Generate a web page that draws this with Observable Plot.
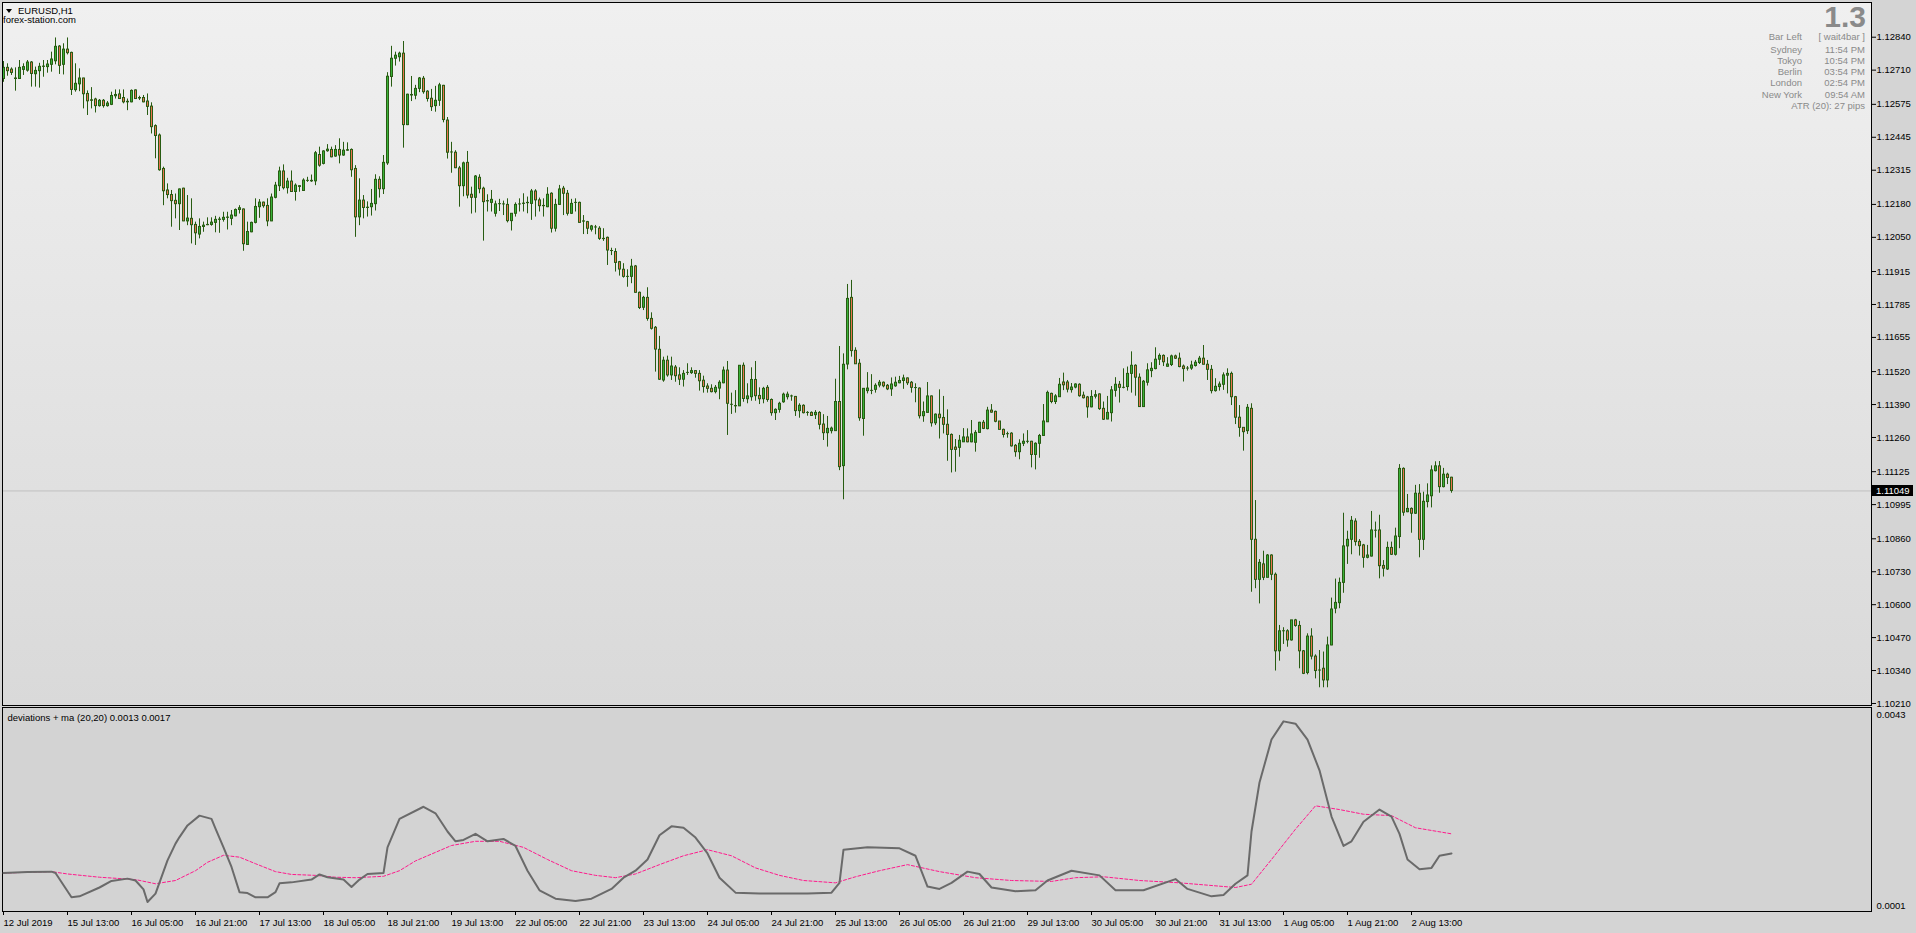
<!DOCTYPE html>
<html><head><meta charset="utf-8">
<script src="https://cdn.jsdelivr.net/npm/d3@7"></script>
<script src="https://cdn.jsdelivr.net/npm/@observablehq/plot@0.6"></script>
<style>
html,body{margin:0;padding:0;background:#d4d4d4;overflow:hidden}
#wrap{position:relative;width:1916px;height:933px;font-family:"Liberation Sans",Arial,sans-serif;background:#d4d4d4}
#bg{position:absolute;left:2px;top:2px;width:1869px;height:703px;background:linear-gradient(#f0f0f0,#d9d9d9)}
.pl{position:absolute;left:0}
.t{position:absolute;white-space:nowrap;font-size:9.5px;line-height:11px}
</style></head><body>
<div id="wrap"><div id="bg"></div><div id="main" class="pl" style="top:0"></div><div id="ind" class="pl" style="top:706px"></div></div>
<script>
// ---------- data ----------
const symbol = "EURUSD,H1";
const site = "forex-station.com";
const opens = [
1.12675,1.12719,1.12712,1.12677,1.12675,1.12711,1.12708,1.12740,1.12694,1.12706,
1.12723,1.12722,1.12731,1.12745,1.12803,1.12731,1.12791,1.12778,1.12631,1.12654,
1.12677,1.12616,1.12591,1.12594,1.12568,1.12589,1.12568,1.12573,1.12607,1.12614,
1.12600,1.12583,1.12583,1.12630,1.12598,1.12600,1.12586,1.12566,1.12489,1.12452,
1.12320,1.12235,1.12217,1.12194,1.12181,1.12242,1.12113,1.12123,1.12099,1.12061,
1.12091,1.12098,1.12099,1.12107,1.12119,1.12119,1.12127,1.12123,1.12133,1.12158,
1.12160,1.12020,1.12070,1.12107,1.12169,1.12187,1.12174,1.12113,1.12206,1.12252,
1.12310,1.12244,1.12270,1.12229,1.12252,1.12233,1.12273,1.12273,1.12271,1.12375,
1.12340,1.12390,1.12395,1.12369,1.12395,1.12373,1.12392,1.12395,1.12320,1.12129,
1.12195,1.12166,1.12169,1.12181,1.12277,1.12240,1.12342,1.12683,1.12755,1.12761,
1.12775,1.12493,1.12612,1.12609,1.12636,1.12676,1.12625,1.12597,1.12568,1.12589,
1.12648,1.12511,1.12385,1.12384,1.12322,1.12252,1.12344,1.12218,1.12206,1.12285,
1.12242,1.12193,1.12186,1.12143,1.12181,1.12180,1.12178,1.12114,1.12143,1.12180,
1.12182,1.12185,1.12182,1.12231,1.12196,1.12173,1.12169,1.12222,1.12084,1.12178,
1.12242,1.12222,1.12143,1.12186,1.12186,1.12113,1.12110,1.12080,1.12089,1.12084,
1.12044,1.12048,1.11996,1.11992,1.11952,1.11922,1.11894,1.11894,1.11935,1.11831,
1.11772,1.11811,1.11728,1.11693,1.11606,1.11485,1.11563,1.11505,1.11536,1.11505,
1.11488,1.11515,1.11514,1.11522,1.11511,1.11484,1.11461,1.11452,1.11439,1.11453,
1.11474,1.11524,1.11389,1.11384,1.11383,1.11543,1.11411,1.11419,1.11487,1.11424,
1.11411,1.11456,1.11408,1.11356,1.11369,1.11399,1.11419,1.11422,1.11420,1.11364,
1.11385,1.11357,1.11357,1.11348,1.11357,1.11311,1.11277,1.11285,1.11285,1.11400,
1.11147,1.11548,1.11811,1.11602,1.11551,1.11333,1.11443,1.11444,1.11448,1.11465,
1.11476,1.11464,1.11450,1.11462,1.11474,1.11483,1.11493,1.11476,1.11455,1.11453,
1.11344,1.11357,1.11422,1.11316,1.11350,1.11337,1.11310,1.11270,1.11220,1.11219,
1.11241,1.11260,1.11241,1.11239,1.11278,1.11318,1.11293,1.11366,1.11361,1.11323,
1.11290,1.11273,1.11275,1.11227,1.11202,1.11235,1.11243,1.11243,1.11191,1.11235,
1.11266,1.11320,1.11432,1.11400,1.11419,1.11477,1.11477,1.11447,1.11457,1.11468,
1.11425,1.11418,1.11379,1.11421,1.11430,1.11373,1.11331,1.11356,1.11444,1.11468,
1.11456,1.11459,1.11511,1.11543,1.11496,1.11380,1.11476,1.11522,1.11530,1.11567,
1.11582,1.11539,1.11546,1.11580,1.11571,1.11540,1.11532,1.11532,1.11542,1.11554,
1.11571,1.11547,1.11527,1.11443,1.11459,1.11468,1.11504,1.11511,1.11419,1.11338,
1.11298,1.11285,1.11373,1.10856,1.10698,1.10759,1.10706,1.10794,1.10718,1.10416,
1.10495,1.10495,1.10459,1.10538,1.10516,1.10416,1.10330,1.10474,1.10395,1.10340,
1.10347,1.10301,1.10439,1.10584,1.10606,1.10686,1.10830,1.10856,1.10928,1.10848,
1.10834,1.10785,1.10790,1.10892,1.10893,1.10753,1.10739,1.10824,1.10797,1.10867,
1.11136,1.10965,1.10978,1.10959,1.11038,1.10856,1.11005,1.11028,1.11127,1.11146,
1.11064,1.11113,1.11101];
const highs = [
1.12744,1.12735,1.12719,1.12719,1.12748,1.12735,1.12748,1.12744,1.12722,1.12737,
1.12748,1.12748,1.12781,1.12837,1.12807,1.12814,1.12837,1.12781,1.12735,1.12715,
1.12678,1.12628,1.12641,1.12599,1.12594,1.12594,1.12586,1.12623,1.12632,1.12632,
1.12632,1.12596,1.12632,1.12632,1.12607,1.12610,1.12616,1.12581,1.12494,1.12458,
1.12327,1.12261,1.12235,1.12221,1.12241,1.12244,1.12215,1.12202,1.12110,1.12123,
1.12110,1.12127,1.12127,1.12133,1.12129,1.12149,1.12149,1.12156,1.12162,1.12175,
1.12162,1.12110,1.12110,1.12202,1.12199,1.12189,1.12202,1.12221,1.12267,1.12327,
1.12336,1.12283,1.12312,1.12261,1.12253,1.12281,1.12287,1.12296,1.12389,1.12406,
1.12392,1.12416,1.12406,1.12412,1.12439,1.12425,1.12423,1.12399,1.12333,1.12281,
1.12215,1.12190,1.12239,1.12297,1.12289,1.12373,1.12700,1.12804,1.12781,1.12781,
1.12823,1.12615,1.12685,1.12650,1.12681,1.12685,1.12629,1.12634,1.12646,1.12658,
1.12650,1.12523,1.12425,1.12392,1.12330,1.12347,1.12389,1.12248,1.12294,1.12297,
1.12248,1.12218,1.12235,1.12193,1.12200,1.12193,1.12202,1.12144,1.12186,1.12202,
1.12222,1.12209,1.12239,1.12238,1.12205,1.12202,1.12246,1.12226,1.12200,1.12255,
1.12251,1.12235,1.12200,1.12202,1.12189,1.12136,1.12113,1.12097,1.12097,1.12092,
1.12084,1.12051,1.12007,1.12005,1.11955,1.11946,1.11922,1.11963,1.11939,1.11834,
1.11817,1.11851,1.11752,1.11698,1.11659,1.11577,1.11581,1.11577,1.11544,1.11535,
1.11524,1.11551,1.11535,1.11524,1.11524,1.11502,1.11472,1.11468,1.11465,1.11484,
1.11538,1.11560,1.11435,1.11445,1.11544,1.11554,1.11472,1.11535,1.11560,1.11456,
1.11458,1.11465,1.11412,1.11373,1.11399,1.11435,1.11439,1.11427,1.11422,1.11393,
1.11389,1.11362,1.11361,1.11366,1.11362,1.11350,1.11343,1.11301,1.11490,1.11619,
1.11590,1.11864,1.11880,1.11614,1.11568,1.11452,1.11516,1.11508,1.11472,1.11485,
1.11479,1.11469,1.11495,1.11498,1.11501,1.11506,1.11495,1.11481,1.11472,1.11456,
1.11400,1.11477,1.11424,1.11353,1.11448,1.11422,1.11369,1.11274,1.11252,1.11268,
1.11295,1.11294,1.11327,1.11287,1.11320,1.11327,1.11379,1.11390,1.11364,1.11323,
1.11293,1.11281,1.11279,1.11232,1.11251,1.11274,1.11287,1.11245,1.11239,1.11272,
1.11390,1.11443,1.11435,1.11429,1.11493,1.11514,1.11485,1.11473,1.11472,1.11472,
1.11439,1.11422,1.11445,1.11445,1.11432,1.11400,1.11422,1.11461,1.11496,1.11481,
1.11531,1.11538,1.11598,1.11547,1.11511,1.11485,1.11551,1.11555,1.11614,1.11590,
1.11586,1.11575,1.11585,1.11585,1.11593,1.11546,1.11540,1.11561,1.11564,1.11580,
1.11623,1.11564,1.11544,1.11492,1.11479,1.11515,1.11531,1.11518,1.11422,1.11386,
1.11298,1.11390,1.11393,1.11011,1.10778,1.10811,1.10798,1.10797,1.10725,1.10518,
1.10509,1.10501,1.10538,1.10542,1.10534,1.10419,1.10485,1.10505,1.10402,1.10419,
1.10413,1.10472,1.10626,1.10701,1.10705,1.10961,1.10890,1.10948,1.10939,1.10857,
1.10838,1.10834,1.10968,1.10926,1.10953,1.10774,1.10847,1.10847,1.10902,1.11153,
1.11140,1.11035,1.10982,1.11071,1.11074,1.11044,1.11077,1.11148,1.11164,1.11165,
1.11138,1.11119,1.11103];
const lows = [
1.12662,1.12686,1.12689,1.12627,1.12673,1.12689,1.12702,1.12643,1.12643,1.12639,
1.12682,1.12698,1.12702,1.12731,1.12693,1.12691,1.12770,1.12610,1.12623,1.12625,
1.12557,1.12531,1.12557,1.12541,1.12564,1.12560,1.12564,1.12570,1.12596,1.12594,
1.12577,1.12550,1.12581,1.12594,1.12590,1.12581,1.12531,1.12458,1.12360,1.12311,
1.12175,1.12202,1.12090,1.12123,1.12077,1.12112,1.12096,1.12024,1.12018,1.12044,
1.12070,1.12096,1.12094,1.12068,1.12066,1.12110,1.12079,1.12096,1.12131,1.12142,
1.11995,1.12018,1.12068,1.12103,1.12125,1.12165,1.12092,1.12112,1.12202,1.12231,
1.12237,1.12221,1.12228,1.12193,1.12228,1.12231,1.12267,1.12267,1.12254,1.12327,
1.12336,1.12386,1.12364,1.12366,1.12340,1.12370,1.12390,1.12287,1.12050,1.12096,
1.12123,1.12130,1.12134,1.12154,1.12205,1.12219,1.12334,1.12643,1.12726,1.12742,
1.12402,1.12491,1.12586,1.12593,1.12621,1.12615,1.12584,1.12547,1.12544,1.12567,
1.12502,1.12359,1.12303,1.12321,1.12169,1.12210,1.12202,1.12142,1.12146,1.12222,
1.12035,1.12150,1.12150,1.12130,1.12152,1.12136,1.12107,1.12075,1.12130,1.12150,
1.12150,1.12143,1.12117,1.12130,1.12150,1.12130,1.12167,1.12067,1.12071,1.12176,
1.12136,1.12134,1.12140,1.12150,1.12106,1.12061,1.12061,1.12071,1.12060,1.12038,
1.12034,1.11939,1.11978,1.11913,1.11897,1.11889,1.11853,1.11867,1.11830,1.11765,
1.11761,1.11719,1.11684,1.11518,1.11485,1.11478,1.11498,1.11485,1.11478,1.11465,
1.11459,1.11505,1.11509,1.11494,1.11443,1.11435,1.11435,1.11436,1.11432,1.11409,
1.11472,1.11268,1.11351,1.11356,1.11382,1.11399,1.11393,1.11403,1.11403,1.11390,
1.11393,1.11399,1.11344,1.11327,1.11356,1.11395,1.11408,1.11403,1.11343,1.11336,
1.11353,1.11344,1.11343,1.11331,1.11290,1.11248,1.11222,1.11274,1.11285,1.11129,
1.11014,1.11527,1.11577,1.11548,1.11324,1.11265,1.11432,1.11429,1.11435,1.11456,
1.11456,1.11445,1.11422,1.11458,1.11472,1.11450,1.11465,1.11435,1.11397,1.11333,
1.11320,1.11356,1.11301,1.11307,1.11254,1.11274,1.11166,1.11120,1.11123,1.11182,
1.11240,1.11239,1.11239,1.11202,1.11277,1.11291,1.11290,1.11356,1.11318,1.11290,
1.11258,1.11257,1.11222,1.11182,1.11172,1.11224,1.11235,1.11140,1.11132,1.11178,
1.11264,1.11319,1.11393,1.11390,1.11418,1.11445,1.11436,1.11435,1.11452,1.11419,
1.11412,1.11336,1.11377,1.11412,1.11367,1.11327,1.11330,1.11321,1.11419,1.11396,
1.11452,1.11443,1.11435,1.11423,1.11380,1.11380,1.11463,1.11496,1.11527,1.11544,
1.11540,1.11538,1.11540,1.11568,1.11535,1.11479,1.11522,1.11525,1.11538,1.11548,
1.11547,1.11485,1.11432,1.11439,1.11443,1.11446,1.11432,1.11386,1.11311,1.11261,
1.11206,1.11272,1.10649,1.10663,1.10603,1.10695,1.10706,1.10695,1.10338,1.10377,
1.10443,1.10432,1.10456,1.10511,1.10347,1.10324,1.10323,1.10382,1.10307,1.10272,
1.10272,1.10272,1.10438,1.10564,1.10584,1.10645,1.10759,1.10797,1.10831,1.10792,
1.10744,1.10781,1.10788,1.10863,1.10702,1.10709,1.10735,1.10794,1.10792,1.10821,
1.10949,1.10963,1.10882,1.10956,1.10785,1.10814,1.10982,1.10982,1.11124,1.11040,
1.11061,1.11074,1.11040];
const closes = [
1.12719,1.12706,1.12699,1.12675,1.12719,1.12722,1.12740,1.12695,1.12707,1.12723,
1.12724,1.12732,1.12752,1.12802,1.12727,1.12791,1.12777,1.12632,1.12656,1.12677,
1.12615,1.12587,1.12589,1.12568,1.12589,1.12568,1.12578,1.12608,1.12612,1.12596,
1.12583,1.12585,1.12628,1.12596,1.12600,1.12583,1.12565,1.12485,1.12450,1.12315,
1.12232,1.12217,1.12193,1.12181,1.12239,1.12113,1.12124,1.12098,1.12066,1.12091,
1.12096,1.12099,1.12108,1.12119,1.12120,1.12127,1.12128,1.12136,1.12158,1.12165,
1.12023,1.12071,1.12107,1.12170,1.12187,1.12173,1.12113,1.12207,1.12254,1.12310,
1.12244,1.12270,1.12229,1.12254,1.12249,1.12274,1.12273,1.12271,1.12382,1.12333,
1.12389,1.12396,1.12366,1.12395,1.12373,1.12392,1.12394,1.12315,1.12129,1.12195,
1.12166,1.12167,1.12182,1.12277,1.12240,1.12344,1.12684,1.12755,1.12767,1.12775,
1.12493,1.12613,1.12610,1.12636,1.12677,1.12623,1.12596,1.12564,1.12589,1.12650,
1.12513,1.12384,1.12385,1.12323,1.12252,1.12342,1.12215,1.12206,1.12290,1.12240,
1.12189,1.12192,1.12198,1.12180,1.12181,1.12180,1.12114,1.12143,1.12178,1.12180,
1.12183,1.12186,1.12231,1.12196,1.12173,1.12174,1.12218,1.12084,1.12178,1.12239,
1.12222,1.12143,1.12182,1.12186,1.12107,1.12112,1.12084,1.12093,1.12089,1.12044,
1.12043,1.11998,1.11996,1.11949,1.11923,1.11894,1.11894,1.11934,1.11831,1.11771,
1.11811,1.11728,1.11689,1.11607,1.11488,1.11563,1.11505,1.11540,1.11502,1.11488,
1.11511,1.11515,1.11522,1.11511,1.11482,1.11459,1.11452,1.11439,1.11456,1.11476,
1.11524,1.11393,1.11389,1.11383,1.11543,1.11412,1.11422,1.11487,1.11423,1.11411,
1.11452,1.11408,1.11356,1.11369,1.11393,1.11429,1.11429,1.11422,1.11364,1.11385,
1.11356,1.11357,1.11345,1.11357,1.11310,1.11277,1.11294,1.11295,1.11400,1.11143,
1.11547,1.11807,1.11601,1.11549,1.11336,1.11452,1.11453,1.11444,1.11464,1.11476,
1.11462,1.11450,1.11469,1.11476,1.11483,1.11493,1.11474,1.11456,1.11455,1.11344,
1.11360,1.11422,1.11316,1.11350,1.11336,1.11310,1.11270,1.11211,1.11211,1.11247,
1.11260,1.11241,1.11272,1.11278,1.11318,1.11294,1.11366,1.11358,1.11322,1.11290,
1.11270,1.11273,1.11225,1.11202,1.11235,1.11243,1.11243,1.11191,1.11235,1.11266,
1.11323,1.11436,1.11400,1.11422,1.11468,1.11466,1.11449,1.11457,1.11469,1.11423,
1.11415,1.11379,1.11420,1.11427,1.11372,1.11330,1.11357,1.11446,1.11468,1.11456,
1.11456,1.11511,1.11543,1.11496,1.11380,1.11480,1.11525,1.11531,1.11567,1.11582,
1.11557,1.11548,1.11580,1.11571,1.11538,1.11530,1.11532,1.11544,1.11555,1.11571,
1.11547,1.11527,1.11443,1.11460,1.11469,1.11505,1.11511,1.11419,1.11338,1.11298,
1.11281,1.11377,1.10856,1.10698,1.10765,1.10706,1.10794,1.10718,1.10416,1.10495,
1.10495,1.10459,1.10538,1.10516,1.10416,1.10327,1.10474,1.10395,1.10338,1.10340,
1.10301,1.10439,1.10581,1.10607,1.10686,1.10830,1.10856,1.10931,1.10847,1.10831,
1.10785,1.10794,1.10893,1.10892,1.10752,1.10742,1.10824,1.10797,1.10869,1.11136,
1.10963,1.10978,1.10959,1.11038,1.10856,1.11006,1.11031,1.11130,1.11146,1.11064,
1.11113,1.11100,1.11049];

const priceTicks = [1.12840,1.12710,1.12575,1.12445,1.12315,1.12180,1.12050,1.11915,1.11785,1.11655,
  1.11520,1.11390,1.11260,1.11125,1.10995,1.10860,1.10730,1.10600,1.10470,1.10340,1.10210];
const timeTickBars = [0,16,32,48,64,80,96,112,128,144,160,176,192,208,224,240,256,272,288,304,320,336,352];
const timeTickLabels = ["12 Jul 2019","15 Jul 13:00","16 Jul 05:00","16 Jul 21:00","17 Jul 13:00","18 Jul 05:00",
  "18 Jul 21:00","19 Jul 13:00","22 Jul 05:00","22 Jul 21:00","23 Jul 13:00","24 Jul 05:00","24 Jul 21:00",
  "25 Jul 13:00","26 Jul 05:00","26 Jul 21:00","29 Jul 13:00","30 Jul 05:00","30 Jul 21:00","31 Jul 13:00",
  "1 Aug 05:00","1 Aug 21:00","2 Aug 13:00"];
const bidPrice = 1.11049;

// indicator: deviations (grey) and its moving average (pink dashed)
const devBars = [0,6,12,13,17,19,24,27,31,33,35,36,38,41,43,44,46,49,52,53,55,57,59,61,63,66,68,69,72,77,79,81,85,87,89,91,95,96,99,
  105,108,111,113,115,118,121,125,128,131,134,138,143,147,152,155,158,161,164,167,170,173,176,179,183,189,201,207,209,210,
  216,224,228,231,234,237,241,244,247,253,258,261,267,274,278,285,293,296,302,305,308,311,312,314,317,320,323,326,329,332,
  335,337,340,344,347,349,351,354,357,359,362];
const devVals = [0.00086,0.00088,0.00089,0.00086,0.00034,0.00036,0.00055,0.00069,0.00074,0.00070,0.00051,0.00024,0.00042,
  0.00113,0.00149,0.00163,0.00188,0.00209,0.00202,0.00181,0.00141,0.00099,0.00045,0.00043,0.00034,0.00034,0.00045,0.00064,
  0.00066,0.00072,0.00083,0.00077,0.00072,0.00056,0.00072,0.00084,0.00086,0.00141,0.00202,
  0.00228,0.00214,0.00175,0.00154,0.00157,0.00170,0.00154,0.00159,0.00144,0.00091,0.00049,0.00031,0.00026,0.00031,0.00052,
  0.00076,0.00091,0.00115,0.00167,0.00186,0.00183,0.00162,0.00128,0.00076,0.00044,0.00042,0.00042,0.00044,0.00065,0.00136,
  0.00141,0.00139,0.00123,0.00057,0.00052,0.00065,0.00089,0.00084,0.00055,0.00047,0.00049,0.00070,0.00091,0.00081,0.00049,
  0.00049,0.00073,0.00052,0.00036,0.00039,0.00063,0.00081,0.00175,0.00280,0.00372,0.00411,0.00406,0.00372,0.00306,0.00207,
  0.00144,0.00154,0.00196,0.00222,0.00207,0.00170,0.00115,0.00094,0.00097,0.00123,0.00128];
const maBars = [0,12,16,24,33,38,43,48,51,55,59,63,68,72,78,83,88,95,99,103,112,118,124,130,136,142,148,153,158,164,170,
  176,182,188,194,200,208,213,219,226,234,243,252,262,268,275,284,294,301,308,312,317,323,328,334,340,347,353,362];
const maVals = [0.00086,0.00089,0.00084,0.00077,0.00072,0.00063,0.00070,0.00091,0.00109,0.00124,0.00120,0.00106,0.00089,
  0.00083,0.00081,0.00077,0.00076,0.00079,0.00091,0.00112,0.00145,0.00154,0.00154,0.00141,0.00115,0.00091,0.00081,0.00076,
  0.00084,0.00104,0.00123,0.00136,0.00123,0.00097,0.00081,0.00070,0.00065,0.00078,0.00091,0.00104,0.00089,0.00076,0.00070,
  0.00068,0.00076,0.00078,0.00070,0.00065,0.00060,0.00055,0.00062,0.00115,0.00180,0.00230,0.00222,0.00212,0.00209,0.00183,
  0.00170];
const indName = "deviations + ma (20,20)";
const indNow = ["0.0013","0.0017"];
const indScale = [0.0043, 0.0001];

const infoBig = "1.3";
const infoNames = ["Bar Left","Sydney","Tokyo","Berlin","London","New York"];
const infoValues = ["[ wait4bar ]","11:54 PM","10:54 PM","03:54 PM","02:54 PM","09:54 AM"];
const atrText = "ATR (20): 27 pips";

// ---------- drawing ----------
const WICK = "#285c12", BULL = "#39b239", BEAR = "#e8734f";
const FONT = "'Liberation Sans', Arial, sans-serif";
const bars = opens.map((o, i) => ({i, o, h: highs[i], l: lows[i], c: closes[i],
  lo: Math.min(o, closes[i]), hi: Math.max(o, closes[i]), up: closes[i] >= o}));
const xDom = [-0.25, 467];

const main = Plot.plot({
  width: 1916, height: 706,
  marginLeft: 2, marginRight: 45, marginTop: 2, marginBottom: 1,
  x: {domain: xDom, axis: null, label: null},
  y: {domain: [1.10202, 1.12977], axis: null, label: null},
  style: {background: "transparent", fontFamily: FONT, fontSize: "9.5px", color: "#000", overflow: "visible"},
  marks: [
    Plot.ruleY([bidPrice], {stroke: "#c0c0c0"}),
    Plot.ruleX(bars, {x: "i", y1: "l", y2: "h", stroke: WICK}),
    Plot.rect(bars, {x1: d => d.i - 0.25, x2: d => d.i + 0.5, y1: "lo", y2: "hi", fill: WICK, insetTop: -0.5, insetBottom: -0.5}),
    Plot.rect(bars.filter(d => d.up), {x1: d => d.i, x2: d => d.i + 0.25, y1: "lo", y2: "hi", fill: BULL, insetTop: 0.5, insetBottom: 0.5}),
    Plot.rect(bars.filter(d => !d.up), {x1: d => d.i, x2: d => d.i + 0.25, y1: "lo", y2: "hi", fill: BEAR, insetTop: 0.5, insetBottom: 0.5}),
    Plot.frame({stroke: "#000"}),
    Plot.axisY(priceTicks, {anchor: "right", label: null, tickSize: 4, tickPadding: 1, tickFormat: d3.format(".5f"), fill: "#000"})
  ]
});
document.getElementById("main").appendChild(main);

const ind = Plot.plot({
  width: 1916, height: 227,
  marginLeft: 2, marginRight: 45, marginTop: 1, marginBottom: 22,
  x: {domain: xDom, axis: null, label: null},
  y: {domain: [0.0001, 0.0043], range: [202, 6], axis: null, label: null},
  style: {background: "transparent", fontFamily: FONT, fontSize: "9.5px", color: "#000", overflow: "visible"},
  marks: [
    Plot.frame({fill: "#d3d3d3", stroke: "#000"}),
    Plot.line(maBars.map((b, k) => ({b, v: maVals[k]})), {x: "b", y: "v", stroke: "#ff1a8c", strokeWidth: 1, strokeDasharray: "3,2"}),
    Plot.line(devBars.map((b, k) => ({b, v: devVals[k]})), {x: "b", y: "v", stroke: "#6a6a6a", strokeWidth: 2}),
    Plot.text([indScale[0]], {y: d => d, frameAnchor: "right", textAnchor: "start", dx: 5, dy: 2, text: d => d.toFixed(4), fill: "#000"}),
    Plot.text([indScale[1]], {y: d => d, frameAnchor: "right", textAnchor: "start", dx: 5, dy: -3, text: d => d.toFixed(4), fill: "#000"}),
    Plot.text([`${indName} ${indNow[0]} ${indNow[1]}`], {frameAnchor: "top-left", dx: 5, dy: 6.5, textAnchor: "start", lineAnchor: "top", fill: "#000"}),
    Plot.axisX(timeTickBars, {anchor: "bottom", label: null, tickSize: 4, tickPadding: 4, textAnchor: "start", dx: 0,
      tickFormat: d => timeTickLabels[timeTickBars.indexOf(d)], fill: "#000"})
  ]
});
document.getElementById("ind").appendChild(ind);

// overlays (text)
const wrap = document.getElementById("wrap");
function addText(txt, css) {
  const d = document.createElement("div");
  d.className = "t"; d.textContent = txt;
  Object.assign(d.style, css);
  wrap.appendChild(d);
  return d;
}
// chart title
const tri = document.createElement("div");
Object.assign(tri.style, {position: "absolute", left: "6px", top: "9px", width: 0, height: 0,
  borderLeft: "3.5px solid transparent", borderRight: "3.5px solid transparent", borderTop: "4px solid #000"});
wrap.appendChild(tri);
addText(symbol, {left: "18px", top: "4.5px", color: "#000"});
addText(site, {left: "3px", top: "13.5px", color: "#000"});
// info panel (top right)
addText(infoBig, {right: (1916 - 1866) + "px", top: "2px", fontSize: "30px", lineHeight: "30px", fontWeight: "bold", color: "#8a8a8a"});
const rowsY = [31, 43.5, 55, 66, 77, 88.5];
infoNames.forEach((n, k) => {
  addText(n, {right: (1916 - 1802) + "px", top: rowsY[k] + "px", color: "#8a8a8a", textAlign: "right"});
  addText(infoValues[k], {right: (1916 - 1865) + "px", top: rowsY[k] + "px", color: "#8a8a8a", textAlign: "right"});
});
addText(atrText, {right: (1916 - 1865) + "px", top: "99.5px", color: "#8a8a8a", textAlign: "right"});
// bid price label on the price scale
const yb = main.scale("y").apply(bidPrice);
addText(bidPrice.toFixed(5), {left: "1872px", top: (yb - 5.5) + "px", width: "41px", height: "11px",
  background: "#000", color: "#fff", paddingLeft: "4px", boxSizing: "border-box"});
</script>
</body></html>
